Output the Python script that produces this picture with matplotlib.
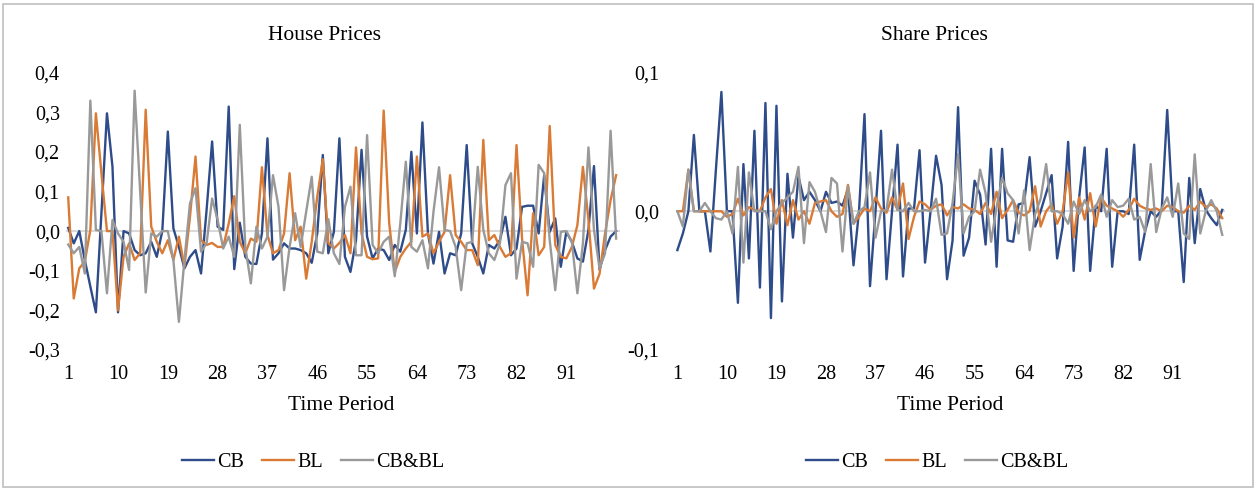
import matplotlib
matplotlib.use("Agg")
from matplotlib import pyplot as plt
from matplotlib.patches import Rectangle

plt.rcParams['font.family'] = ['Liberation Serif', 'DejaVu Serif']

periods = list(range(1, 101))
tick_periods = [1, 10, 19, 28, 37, 46, 55, 64, 73, 82, 91]
series_names = ["CB", "BL", "CB&BL"]

# house prices
house_cb = [0.008, -0.031, 0.0, -0.073, -0.14, -0.205, 0.045, 0.297, 0.162, -0.205,
            0.0, -0.006, -0.048, -0.061, -0.056, -0.027, -0.065, 0.0, 0.251, 0.007,
            -0.04, -0.094, -0.065, -0.048, -0.107, 0.053, 0.226, 0.011, 0.003, 0.314,
            -0.096, 0.021, -0.065, -0.082, -0.083, -0.006, 0.234, -0.072, -0.056, -0.031,
            -0.044, -0.044, -0.048, -0.056, -0.08, -0.006, 0.192, -0.056, -0.002, 0.234,
            -0.065, -0.103, -0.023, 0.205, -0.014, -0.069, -0.044, -0.048, -0.073, -0.035,
            -0.052, 0.003, 0.2, -0.006, 0.274, -0.006, -0.082, -0.002, -0.107, -0.056,
            -0.061, -0.006, 0.217, -0.031, -0.065, -0.107, -0.035, -0.044, -0.023, 0.036,
            -0.061, -0.044, 0.061, 0.064, 0.064, -0.006, 0.141, -0.002, 0.032, -0.09,
            -0.002, -0.027, -0.069, -0.077, 0.003, 0.164, -0.097, -0.048, -0.014, 0.0]
house_bl = [0.085, -0.17, -0.094, -0.077, 0.003, 0.297, 0.146, 0.0, 0.0, -0.2,
            -0.065, -0.031, -0.073, -0.056, 0.306, 0.011, -0.027, -0.056, -0.023, -0.073,
            -0.014, -0.09, 0.036, 0.188, -0.023, -0.035, -0.03, -0.04, -0.04, 0.019,
            0.088, -0.027, -0.056, -0.019, -0.027, 0.161, -0.01, -0.056, -0.048, -0.006,
            0.146, -0.023, 0.011, -0.12, -0.027, 0.087, 0.181, -0.03, -0.044, -0.03,
            -0.01, -0.056, 0.211, -0.006, -0.065, -0.071, -0.069, 0.304, 0.019, -0.103,
            -0.065, -0.044, -0.027, 0.188, -0.014, -0.006, -0.056, -0.027, -0.002, 0.141,
            -0.01, -0.027, -0.048, -0.048, -0.086, 0.23, -0.023, -0.01, -0.04, -0.065,
            -0.056, 0.217, -0.019, -0.162, 0.045, -0.061, -0.04, 0.265, -0.035, -0.065,
            -0.069, -0.04, 0.015, 0.162, 0.028, -0.145, -0.108, -0.006, 0.078, 0.141]
house_cbbl = [-0.034, -0.056, -0.04, -0.107, 0.329, 0.003, 0.0, -0.157, 0.028, -0.006,
              -0.027, -0.098, 0.354, 0.1, -0.155, -0.006, -0.014, 0.0, 0.0, -0.073,
              -0.229, -0.073, 0.07, 0.108, -0.052, -0.031, 0.082, 0.028, -0.044, -0.014,
              -0.065, 0.268, -0.04, -0.132, 0.011, -0.044, -0.014, 0.141, 0.061, -0.149,
              -0.04, 0.045, -0.04, 0.049, 0.137, -0.052, -0.056, 0.03, -0.056, -0.083,
              0.061, 0.112, -0.061, -0.061, 0.242, -0.035, -0.056, -0.027, -0.014, -0.114,
              0.019, 0.175, -0.04, -0.052, -0.023, -0.094, 0.049, 0.161, 0.003, 0.0,
              -0.04, -0.149, -0.031, -0.027, 0.162, 0.003, -0.056, -0.073, -0.031, 0.116,
              0.146, -0.12, -0.027, -0.031, -0.09, 0.167, 0.146, -0.023, -0.149, -0.002,
              0.0, -0.027, -0.157, -0.031, 0.211, 0.003, -0.094, -0.056, 0.253, -0.019]

# share prices
share_cb = [-0.028, -0.016, 0.0, 0.055, 0.0, 0.0, -0.029, 0.03, 0.086, 0.0,
            0.0, -0.066, 0.034, -0.034, 0.058, -0.055, 0.078, -0.077, 0.076, -0.065,
            0.027, -0.019, 0.025, 0.008, 0.014, 0.008, 0.0, 0.014, 0.006, 0.007,
            0.004, 0.016, -0.039, 0.0, 0.07, -0.054, 0.0, 0.058, -0.049, 0.0,
            0.048, -0.047, 0.002, 0.002, 0.044, -0.037, 0.0, 0.04, 0.019, -0.049,
            -0.021, 0.075, -0.032, -0.019, 0.022, 0.012, -0.024, 0.045, -0.04, 0.045,
            -0.021, -0.022, 0.005, 0.006, 0.039, -0.011, 0.0, 0.013, 0.026, -0.034,
            -0.011, 0.05, -0.043, 0.01, 0.046, -0.043, 0.004, 0.0, 0.045, -0.04,
            0.0, 0.0, -0.002, 0.048, -0.035, -0.014, 0.0, -0.004, 0.001, 0.073,
            0.0, 0.0, -0.051, 0.024, -0.023, 0.016, 0.001, -0.005, -0.01, 0.001]
share_bl = [0.0, 0.0, 0.03, 0.0, 0.0, 0.0, 0.0, 0.0, 0.0, -0.004,
            -0.002, 0.009, -0.003, 0.003, 0.001, 0.0, 0.01, 0.016, -0.009, 0.008,
            -0.01, 0.008, -0.006, 0.0, -0.009, 0.006, 0.007, 0.008, 0.0, -0.004,
            -0.002, 0.019, -0.009, -0.004, 0.002, 0.0, 0.01, 0.002, -0.001, 0.01,
            0.001, 0.02, -0.02, -0.004, 0.007, 0.005, 0.001, 0.004, 0.005, -0.003,
            0.003, 0.002, 0.005, 0.002, 0.001, -0.002, 0.006, -0.002, 0.014, -0.005,
            0.001, 0.008, -0.001, -0.003, 0.0, 0.018, -0.011, 0.0, 0.005, -0.009,
            0.0, 0.028, -0.019, 0.01, -0.006, 0.013, -0.011, 0.01, 0.004, 0.002,
            0.0, -0.004, 0.001, 0.009, 0.004, 0.002, 0.001, 0.002, 0.0, 0.004,
            0.003, 0.0, -0.001, 0.004, 0.001, 0.007, 0.003, 0.005, 0.002, -0.005]
share_cbbl = [0.0, -0.011, 0.03, 0.0, 0.0, 0.006, 0.0, -0.005, -0.006, 0.0,
              -0.016, 0.032, -0.037, 0.028, 0.0, 0.0, 0.0, -0.013, 0.0, 0.006,
              0.01, 0.014, 0.032, -0.023, 0.021, 0.014, 0.0, -0.015, 0.024, 0.02,
              -0.029, 0.018, -0.009, 0.0, 0.003, 0.028, -0.019, 0.0, 0.001, 0.03,
              0.001, 0.0, 0.006, 0.0, 0.0, 0.001, 0.0, 0.009, -0.017, -0.016,
              0.006, 0.041, -0.016, -0.004, 0.0, 0.03, 0.013, -0.022, 0.003, 0.024,
              0.013, 0.008, -0.016, 0.015, -0.028, -0.002, 0.009, 0.034, 0.0, 0.0,
              -0.002, -0.009, 0.007, -0.002, 0.008, 0.0, 0.003, 0.012, -0.004, 0.008,
              0.003, 0.004, 0.009, -0.006, -0.004, -0.015, 0.034, -0.015, 0.002, 0.01,
              -0.004, 0.02, -0.016, -0.02, 0.041, -0.016, 0.0, 0.008, 0.0, -0.017]

house_yticks = [-0.3, -0.2, -0.1, 0.0, 0.1, 0.2, 0.3, 0.4]
share_yticks = [-0.1, 0.0, 0.1]

colors = ["#2E4C8A", "#D97A35", "#999999"]
W, H = 1255, 488


def fmt(v):
    return ("%.1f" % v).replace(".", ",")


fig = plt.figure(figsize=(W / 100, H / 100), dpi=100)
fig.patches.append(Rectangle((2.5 / W, 1.5 / H), (W - 5) / W, (H - 5) / H,
                             transform=fig.transFigure, fill=False,
                             edgecolor="#BFBFBF", linewidth=1.2))

panels = [
    ("House Prices", [house_cb, house_bl, house_cbbl], house_yticks,
     66, 620, (0.6, 100.7), 4.5, 325, 341, 313),
    ("Share Prices", [share_cb, share_bl, share_cbbl], share_yticks,
     676, 1225, (0.75, 100.5), 12, 934, 950, 937),
]

for title, data, yt, x0, x1, xl, ypad, tx, lx, gx in panels:
    ax = fig.add_axes([x0 / W, (H - 350) / H, (x1 - x0) / W, 277.5 / H])
    ax.axhline(0, color="#D9D9D9", linewidth=1.5, zorder=1)
    lines = []
    for vals, c, name in zip(data, colors, series_names):
        ln, = ax.plot(periods, vals, color=c, linewidth=1.7, label=name, zorder=2)
        lines.append(ln)
    ax.set_xlim(*xl)
    ax.set_ylim(yt[0], yt[-1])
    ax.set_xticks(tick_periods)
    ax.set_xticklabels([str(t) for t in tick_periods])
    ax.set_yticks(yt)
    ax.set_yticklabels([fmt(v) for v in yt])
    for s in ax.spines.values():
        s.set_visible(False)
    ax.tick_params(axis="both", length=0, labelsize=14.5, colors="#000000")
    ax.tick_params(axis="x", pad=11)
    ax.tick_params(axis="y", pad=ypad)
    ax.patch.set_alpha(0)

    fig.text(tx / W, 1 - 36 / H, title, ha="center", va="center", fontsize=15.5)
    fig.text(lx / W, 1 - 406 / H, "Time Period", ha="center", va="center", fontsize=15.5)
    fig.legend(handles=lines, loc="center", bbox_to_anchor=(gx / W, 1 - 462 / H),
               ncol=3, frameon=False, fontsize=14.5, handlelength=1.6,
               handletextpad=0.15, columnspacing=0.9)

fig.savefig("out.png", dpi=100)
